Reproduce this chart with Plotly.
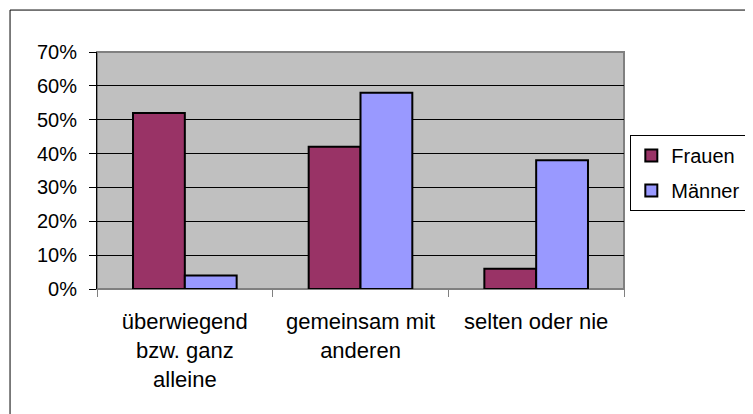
import plotly.graph_objects as go

# categories and values (share of respondents)
kategorien = ["überwiegend<br>bzw. ganz<br>alleine", "gemeinsam mit<br>anderen", "selten oder nie"]
frauen = [0.52, 0.42, 0.06]
maenner = [0.04, 0.58, 0.38]
y_ticks = [0, 0.1, 0.2, 0.3, 0.4, 0.5, 0.6, 0.7]

# the page body adds an 8px margin, so the figure is drawn 8px smaller
fig = go.Figure()
fig.add_bar(x=kategorien, y=frauen, name="Frauen", legendgroup="f",
            marker=dict(color="#993366", line=dict(color="black", width=2)))
fig.add_bar(x=kategorien, y=maenner, name="Männer", legendgroup="m",
            marker=dict(color="#9999FF", line=dict(color="black", width=2)))

fig.update_layout(
    width=745, height=406,
    margin=dict(l=89, r=129, t=44, b=125, autoexpand=False),
    paper_bgcolor="white", plot_bgcolor="#C0C0C0",
    font=dict(family="Liberation Sans, Arial, sans-serif", size=20, color="black"),
    barmode="group", bargap=0.41, bargroupgap=0,
    legend=dict(x=1.012, y=1 - (135 - 52) / 237, xanchor="left", yanchor="top",
                bordercolor="black", borderwidth=1, bgcolor="white",
                font=dict(size=20), itemwidth=30, tracegroupgap=6),
    showlegend=True,
    # outer chart border (cut off at right and bottom like the original)
    shapes=[
        dict(type="rect", xref="paper", yref="paper", x0=-0.165, x1=1.6, y0=-1.0, y1=1.177,
             line=dict(color="black", width=1), fillcolor="rgba(0,0,0,0)", layer="below"),
        dict(type="rect", xref="paper", yref="paper", x0=0, x1=1, y0=0, y1=1,
             line=dict(color="#808080", width=2), fillcolor="rgba(0,0,0,0)", layer="below"),
    ],
)
fig.update_xaxes(tickson="boundaries", ticks="outside", ticklen=7, tickcolor="#808080",
                 showline=True, linecolor="#808080", linewidth=1, automargin=False,
                 tickfont=dict(size=22), showgrid=False, ticklabelstandoff=13)
fig.update_yaxes(range=[0, 0.7], tickvals=y_ticks, tickformat=".0%",
                 ticks="outside", ticklen=7, tickcolor="black", automargin=False,
                 showline=True, linecolor="black", linewidth=1,
                 showgrid=True, gridcolor="black", gridwidth=1,
                 zeroline=False, tickfont=dict(size=20), ticklabelstandoff=8)

fig.write_html("out.html")
